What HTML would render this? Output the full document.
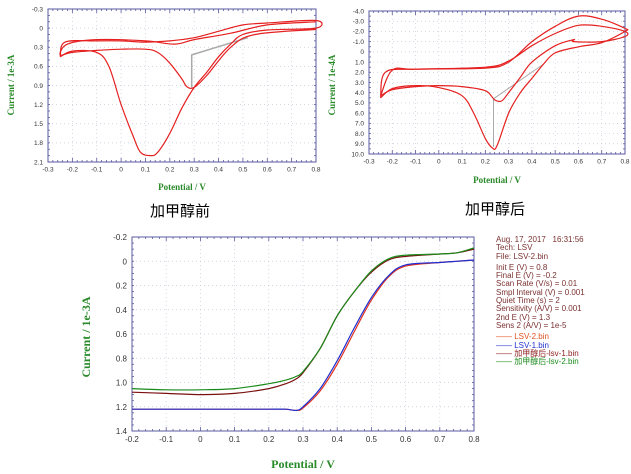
<!DOCTYPE html>
<html><head><meta charset="utf-8"><style>
body{margin:0;background:#fff;width:631px;height:474px;overflow:hidden;font-family:"Liberation Sans","Noto Sans CJK SC",sans-serif}
svg{position:absolute;left:0;top:0}
.cap{position:absolute;font-size:15px;color:#000;font-family:"Liberation Sans","Noto Sans CJK SC",sans-serif}
#info{position:absolute;left:496px;top:236px;font-size:8px;line-height:8.3px;color:#7a3030;white-space:nowrap}
</style></head><body>
<svg id="chart" width="631" height="474"></svg>
<div class="cap" style="left:150px;top:200px">加甲醇前</div>
<div class="cap" style="left:465px;top:198px">加甲醇后</div>
<div id="info">
Aug. 17, 2017 &nbsp; 16:31:56<br>Tech: LSV<br>File: LSV-2.bin<br><div style="height:3px"></div>
Init E (V) = 0.8<br>Final E (V) = -0.2<br>Scan Rate (V/s) = 0.01<br>Smpl Interval (V) = 0.001<br>Quiet Time (s) = 2<br>Sensitivity (A/V) = 0.001<br>2nd E (V) = 1.3<br>Sens 2 (A/V) = 1e-5<br><div style="height:3px"></div>
<span><span style="color:#e05020">—— LSV-2.bin</span></span><br>
<span><span style="color:#2030d0">—— LSV-1.bin</span></span><br>
<span><span style="color:#8b1a1a">—— 加甲醇后-lsv-1.bin</span></span><br>
<span><span style="color:#1a8a1a">—— 加甲醇后-lsv-2.bin</span></span>
</div>
<script>
// ---- chart 1 (before methanol CV) ----
const cv1X = [-0.3,-0.2,-0.1,0,0.1,0.2,0.3,0.4,0.5,0.6,0.7,0.8];
const cv1YTicks = [-0.3,0,0.3,0.6,0.9,1.2,1.5,1.8,2.1];
const cv1LoopA_E = [-0.25,-0.23,-0.1,0,0.1,0.2,0.3,0.4,0.5,0.6,0.8,0.8,0.6,0.5,0.45,0.4,0.35,0.3,0.25,0.2,0.15,0.12,0.08,0.05,0,-0.05,-0.1,-0.2,-0.25];
const cv1LoopA_I = [0.45,0.22,0.2,0.2,0.22,0.2,0.15,0.05,-0.05,-0.08,-0.12,0.0,0.03,0.1,0.25,0.45,0.7,0.93,1.25,1.65,1.95,2.0,1.95,1.7,1.2,0.6,0.38,0.36,0.45];
const cv1LoopB_E = [0.8,0.55,0.45,0.35,0.3,0.27,0.25,0.2,0.15,0.1,0,-0.1,-0.2,-0.25,-0.22,-0.1,0.1,0.22,0.3,0.45,0.6,0.8];
const cv1LoopB_I = [0.02,0.1,0.3,0.75,0.93,0.92,0.8,0.55,0.38,0.33,0.33,0.35,0.38,0.42,0.25,0.18,0.2,0.25,0.18,0.08,-0.05,-0.1];
const cv1Base_E = [0.29,0.29,0.52];
const cv1Base_I = [0.93,0.42,0.15];
// ---- chart 2 (after methanol CV) ----
const cv2X = [-0.3,-0.2,-0.1,0,0.1,0.2,0.3,0.4,0.5,0.6,0.7,0.8];
const cv2YTicks = [-4,-3,-2,-1,0,1,2,3,4,5,6,7,8,9,10];
const cv2YLabels = ["-4.0","-3.0","-2.0","-1.0","0","1.0","2.0","3.0","4.0","5.0","6.0","7.0","8.0","9.0","10.0"];
const cv2LoopA_E = [-0.25,-0.23,-0.1,0.2,0.3,0.4,0.5,0.6,0.7,0.8,0.8,0.7,0.6,0.5,0.45,0.4,0.35,0.3,0.25,0.23,0.2,0.15,0.1,0,-0.1,-0.2,-0.25];
const cv2LoopA_I = [4.5,2.0,1.7,1.6,1.0,-1.0,-2.5,-3.5,-3.2,-2.3,-2.0,-0.9,-0.5,0.1,1.2,2.6,4.0,6.0,9.2,9.4,8.5,6.0,4.3,3.5,3.3,3.6,4.5];
const cv2LoopB_E = [-0.25,-0.2,-0.1,0.2,0.3,0.4,0.5,0.6,0.7,0.8,0.8,0.7,0.58,0.58,0.5,0.4,0.35,0.3,0.27,0.24,0.2,0.1,0,-0.1,-0.2,-0.25];
const cv2LoopB_I = [4.3,1.8,1.7,1.5,0.9,-0.6,-1.8,-2.6,-2.5,-2.0,-1.5,-1.0,-1.0,-1.2,-0.6,1.0,2.5,4.0,4.8,4.7,3.8,3.4,3.3,3.4,3.7,4.3];
const cv2Base_E = [0.235,0.235,0.45];
const cv2Base_I = [9.3,4.6,1.2];
// ---- chart 3 (LSV) ----
const lsvX = [-0.2,-0.1,0,0.1,0.2,0.3,0.4,0.5,0.6,0.7,0.8];
const lsvYTicks = [-0.2,0,0.2,0.4,0.6,0.8,1.0,1.2,1.4];
const lsvE = [-0.2,-0.1,0,0.1,0.2,0.25,0.28,0.3,0.35,0.4,0.45,0.5,0.55,0.6,0.7,0.75,0.8];
const lsvGreen = [1.05,1.06,1.06,1.05,1.01,0.98,0.95,0.91,0.72,0.45,0.25,0.08,-0.02,-0.05,-0.06,-0.07,-0.11];
const lsvBrown = [1.08,1.09,1.1,1.09,1.05,1.01,0.97,0.92,0.72,0.45,0.25,0.09,-0.01,-0.04,-0.06,-0.07,-0.1];
const lsvBlue = [1.22,1.22,1.22,1.22,1.22,1.22,1.23,1.2,1.05,0.82,0.55,0.3,0.12,0.03,0.01,0.0,-0.01];
const lsvRed = [1.22,1.22,1.22,1.22,1.22,1.22,1.23,1.21,1.07,0.85,0.58,0.32,0.13,0.04,0.01,0.0,-0.01];

const NS="http://www.w3.org/2000/svg";
const svg=document.getElementById('chart');
function mk(tag,attrs,parent){const e=document.createElementNS(NS,tag);for(const k in attrs)e.setAttribute(k,attrs[k]);(parent||svg).appendChild(e);return e;}
function smooth(pts){
  let d='M'+pts[0][0].toFixed(1)+','+pts[0][1].toFixed(1);
  for(let i=0;i<pts.length-1;i++){
    const p0=pts[i-1]||pts[i],p1=pts[i],p2=pts[i+1],p3=pts[i+2]||p2;
    const c1=[p1[0]+(p2[0]-p0[0])/6,p1[1]+(p2[1]-p0[1])/6];
    const c2=[p2[0]-(p3[0]-p1[0])/6,p2[1]-(p3[1]-p1[1])/6];
    d+=` C${c1[0].toFixed(1)},${c1[1].toFixed(1)} ${c2[0].toFixed(1)},${c2[1].toFixed(1)} ${p2[0].toFixed(1)},${p2[1].toFixed(1)}`;
  }
  return d;
}
function makeChart(cfg){
  const sx=v=>cfg.l+(v-cfg.x0)/(cfg.x1-cfg.x0)*(cfg.r-cfg.l);
  const sy=v=>cfg.t+(v-cfg.y0)/(cfg.y1-cfg.y0)*(cfg.b-cfg.t);
  const g=mk('g',{});
  
  
  cfg.xt.forEach(v=>{const x=sx(v);
    const gl=mk('line',{x1:x,x2:x,y1:cfg.t,y2:cfg.b,stroke:'#c8c8d8','stroke-width':0.7,'stroke-dasharray':'1,3'},g);
    
    const tl=mk('text',{x:x,y:cfg.b+cfg.fs+3,'font-size':cfg.fs,'text-anchor':'middle',fill:'#333'},g);
    tl.textContent=String(v);
    
  });
  cfg.yt.forEach((v,i)=>{const y=sy(v);
    const gl=mk('line',{x1:cfg.l,x2:cfg.r,y1:y,y2:y,stroke:'#c8c8d8','stroke-width':0.7,'stroke-dasharray':'1,3'},g);
    
    const tl=mk('text',{x:cfg.l-5,y:y+cfg.fs/2-1,'font-size':cfg.fs,'text-anchor':'end',fill:'#333'},g);
    tl.textContent=cfg.yl?cfg.yl[i]:(Math.abs(v)<1e-9?'0':v.toFixed(1));
    
  });
  const fr=mk('rect',{x:cfg.l,y:cfg.t,width:cfg.r-cfg.l,height:cfg.b-cfg.t,fill:'none',stroke:'#5a5aa0','stroke-width':1},g);
  
  const nx=(cfg.xt.length-1)*5, ny=(cfg.yt.length-1)*(cfg.ym||4);
  for(let i=0;i<=nx;i++){const x=cfg.l+i*(cfg.r-cfg.l)/nx;const L=i%5?2:4;
    mk('line',{x1:x,x2:x,y1:cfg.t,y2:cfg.t+L,stroke:'#5a5aa0','stroke-width':0.8},g);
    mk('line',{x1:x,x2:x,y1:cfg.b,y2:cfg.b-L,stroke:'#5a5aa0','stroke-width':0.8},g);}
  for(let i=0;i<=ny;i++){const y=cfg.t+i*(cfg.b-cfg.t)/ny;
    mk('line',{x1:cfg.l,x2:cfg.l+2,y1:y,y2:y,stroke:'#5a5aa0','stroke-width':0.8},g);
    mk('line',{x1:cfg.r,x2:cfg.r-2,y1:y,y2:y,stroke:'#5a5aa0','stroke-width':0.8},g);}
  const xt=mk('text',{x:(cfg.l+cfg.r)/2,y:cfg.xty,'font-size':cfg.tfs,'text-anchor':'middle',fill:'#2a8a2a','font-weight':'bold','font-family':'Liberation Serif,serif'},g);
  xt.textContent='Potential / V';
  
  const yt=mk('text',{x:0,y:0,'font-size':cfg.tfs,'text-anchor':'middle',fill:'#2a8a2a','font-weight':'bold','font-family':'Liberation Serif,serif',transform:`translate(${cfg.ytx},${cfg.yty}) rotate(-90)`},g);
  yt.textContent=cfg.ytitle;
  
  cfg.series.forEach(s=>{
    const pts=s.x.map((v,i)=>[sx(v),sy(s.y[i])]);
    const d=s.straight?pts.map((p,i)=>(i?'L':'M')+p[0].toFixed(1)+','+p[1].toFixed(1)).join(' '):smooth(pts);
    const p=mk('path',{d:d,fill:'none',stroke:s.c,'stroke-width':s.w||1.2,'stroke-linejoin':'round'},g);
    
  });
}
makeChart({name:'cv-before-chart',l:48,r:316,t:9,b:162,x0:-0.3,x1:0.8,y0:-0.3,y1:2.1,xt:cv1X,yt:cv1YTicks,ym:3,fs:6.5,tfs:9,xty:190,ytx:14,yty:85,ytitle:'Current / 1e-3A',
  series:[{name:'baseline-before',x:cv1Base_E,y:cv1Base_I,c:'#aaa',w:1.5,straight:true},
          {name:'cv-before-loop-1',x:cv1LoopA_E,y:cv1LoopA_I,c:'#e52020'},
          {name:'cv-before-loop-2',x:cv1LoopB_E,y:cv1LoopB_I,c:'#e52020'}]});
makeChart({name:'cv-after-chart',l:369,r:625,t:11,b:154,x0:-0.3,x1:0.8,y0:-4,y1:10,xt:cv2X,yt:cv2YTicks,yl:cv2YLabels,ym:2,fs:6.5,tfs:9,xty:183,ytx:335,yty:85,ytitle:'Current / 1e-4A',
  series:[{name:'baseline-after',x:cv2Base_E,y:cv2Base_I,c:'#aaa',w:1,straight:true},
          {name:'cv-after-loop-1',x:cv2LoopA_E,y:cv2LoopA_I,c:'#e52020'},
          {name:'cv-after-loop-2',x:cv2LoopB_E,y:cv2LoopB_I,c:'#e52020'}]});
makeChart({name:'lsv-chart',l:132,r:474,t:237,b:431,x0:-0.2,x1:0.8,y0:-0.2,y1:1.4,xt:lsvX,yt:lsvYTicks,ym:4,fs:8,tfs:12,xty:468,ytx:90,yty:337,ytitle:'Current / 1e-3A',
  series:[{name:'lsv-2-red',x:lsvE,y:lsvRed,c:'#e03020'},
          {name:'lsv-1-blue',x:lsvE,y:lsvBlue,c:'#2030d0'},
          {name:'after-lsv-1-brown',x:lsvE,y:lsvBrown,c:'#7a1010'},
          {name:'after-lsv-2-green',x:lsvE,y:lsvGreen,c:'#1a8a1a'}]});
</script>
</body></html>
